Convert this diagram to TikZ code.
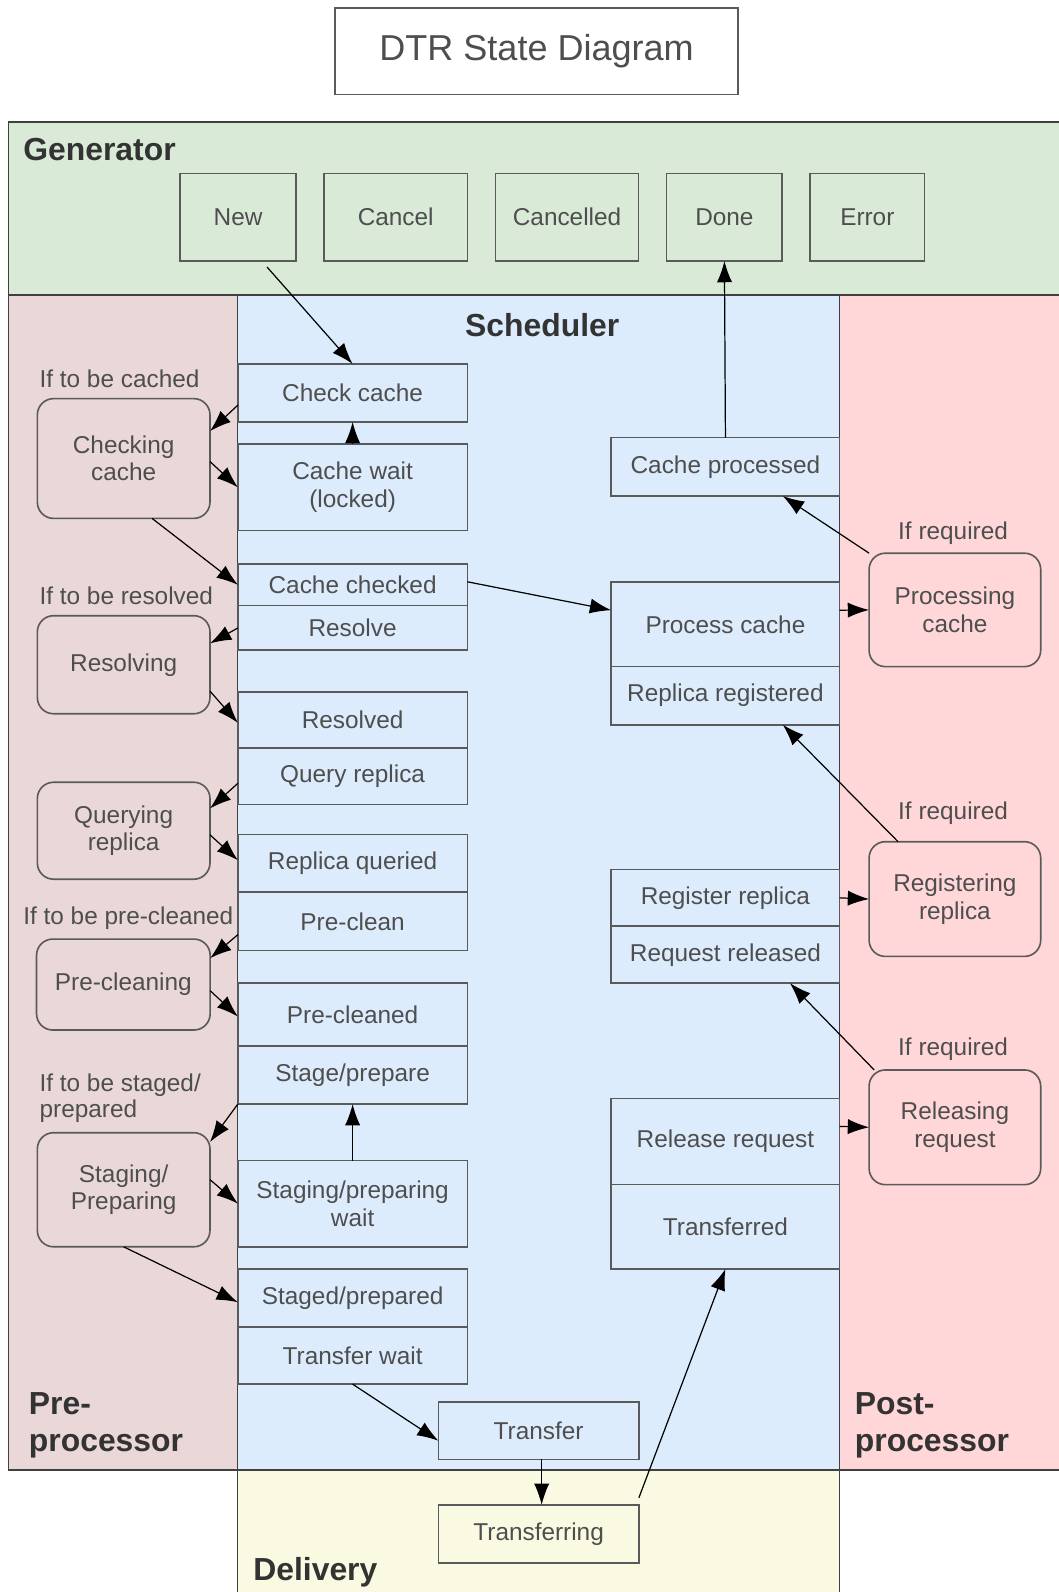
\documentclass[tikz,border=0pt]{standalone}
\usepackage{fontspec}
\setmainfont{Liberation Sans}
\usetikzlibrary{arrows.meta,positioning}

\definecolor{gencol}{RGB}{217,234,215}
\definecolor{precol}{RGB}{234,216,216}
\definecolor{schedcol}{RGB}{221,236,252}
\definecolor{postcol}{RGB}{255,215,216}
\definecolor{delcol}{RGB}{250,249,225}
\definecolor{linegray}{RGB}{90,90,90}
\definecolor{txtgray}{RGB}{78,78,78}

\begin{document}
\begin{tikzpicture}[x=1pt,y=-1pt,>={Latex[length=21pt,width=15pt]},
  every node/.style={font=\fontsize{24}{27}\selectfont,text=txtgray,inner sep=0pt,outer sep=0pt},
  gbox/.style={draw=linegray,line width=1.6pt,minimum height=86pt},
  sbox/.style={draw=linegray,line width=1.6pt,minimum width=226pt,align=center},
  rbox/.style={draw=linegray,line width=1.6pt,rounded corners=16pt,minimum width=170pt,align=center},
  lane/.style={draw=black!75,line width=1.6pt},
  lbl/.style={font=\fontsize{31.4}{36}\selectfont\bfseries,text=black!80,align=left,anchor=west},
  note/.style={align=left,anchor=west},
  every edge/.style={draw,->,line width=1.2pt,black}]
  \useasboundingbox (0,0) rectangle (1043,1568);

  % lanes
  \path[lane,fill=gencol] (8.5,120) rectangle (1050,290.5);
  \path[lane,fill=precol] (8.5,290.5) rectangle (234,1448);
  \path[lane,fill=postcol] (827,290.5) rectangle (1050,1448);
  \path[lane,fill=delcol] (234,1448) rectangle (827,1580);
  \path[lane,fill=schedcol] (234,290.5) rectangle (827,1448);

  \node[draw=linegray,line width=1.6pt,fill=white,minimum width=397pt,minimum height=85pt,
    font=\fontsize{35.5}{40}\selectfont] (title) at (528.5,50.5) {DTR State Diagram};

  \node[lbl] (genlbl) at (23,147) {Generator};
  \node[lbl,anchor=center] (schedlbl) at (534,320) {Scheduler};
  \node[lbl] (prelbl) at (28.5,1404) {Pre-\\processor};
  \node[lbl] (postlbl) at (842,1404) {Post-\\processor};
  \node[lbl] (dellbl) at (249.5,1549) {Delivery};

  % generator states
  \node[gbox,minimum width=114pt] (New) at (234.5,214) {New};
  \node[gbox,minimum width=141.5pt,right=27.5pt of New] (Cancel) {Cancel};
  \node[gbox,minimum width=141pt,right=27.5pt of Cancel] (Cancelled) {Cancelled};
  \node[gbox,minimum width=114pt,right=27.5pt of Cancelled] (Done) {Done};
  \node[gbox,minimum width=112.5pt,right=27.5pt of Done] (Error) {Error};

  % scheduler, left column
  \node[sbox,minimum height=57pt] (chk) at (347.3,387) {Check cache};
  \node[sbox,minimum height=85pt] (cwait) at (347.3,480) {Cache wait\\(locked)};
  \node[sbox,minimum height=41pt] (cchecked) at (347.3,576) {Cache checked};
  \node[sbox,minimum height=44pt,below=0pt of cchecked] (resolve) {Resolve};
  \node[sbox,minimum height=55pt] (resolved) at (347.3,709) {Resolved};
  \node[sbox,minimum height=56pt,below=0pt of resolved] (query) {Query replica};
  \node[sbox,minimum height=57pt] (rqueried) at (347.3,850.3) {Replica queried};
  \node[sbox,minimum height=57.5pt,below=0pt of rqueried] (preclean) {Pre-clean};
  \node[sbox,minimum height=61.5pt] (precleaned) at (347.3,999.2) {Pre-cleaned};
  \node[sbox,minimum height=57.4pt,below=0pt of precleaned] (stage) {Stage/prepare};
  \node[sbox,minimum height=85pt] (swait) at (347.3,1185.5) {Staging/preparing\\wait};
  \node[sbox,minimum height=57.3pt] (staged) at (347.3,1278.6) {Staged/prepared};
  \node[sbox,minimum height=56pt,below=0pt of staged] (twait) {Transfer wait};
  \node[sbox,minimum width=197.5pt,minimum height=56.7pt] (transfer) at (530.5,1409) {Transfer};

  % scheduler, right column
  \node[sbox,minimum width=225pt,minimum height=57.5pt] (cproc) at (714.5,459.8) {Cache processed};
  \node[sbox,minimum width=225pt,minimum height=83pt] (pcache) at (714.5,615) {Process cache};
  \node[sbox,minimum width=225pt,minimum height=57.3pt,below=0pt of pcache] (rreg) {Replica registered};
  \node[sbox,minimum width=225pt,minimum height=56pt] (regrep) at (714.5,884.3) {Register replica};
  \node[sbox,minimum width=225pt,minimum height=56pt,below=0pt of regrep] (relsd) {Request released};
  \node[sbox,minimum width=225pt,minimum height=84.8pt] (relreq) at (714.5,1124.4) {Release request};
  \node[sbox,minimum width=225pt,minimum height=83pt,below=0pt of relreq] (transferred) {Transferred};

  % delivery
  \node[sbox,minimum width=197.5pt,minimum height=57pt] (transferring) at (530.5,1510.7) {Transferring};

  % pre-processor
  \node[note] (ifcached) at (39,373.5) {If to be cached};
  \node[rbox,minimum height=118pt] (checking) at (121.8,451.6) {Checking\\cache};
  \node[note] (ifresolved) at (39,587) {If to be resolved};
  \node[rbox,minimum height=96.6pt] (resolving) at (121.8,654.7) {Resolving};
  \node[rbox,minimum height=95.5pt] (querying) at (121.8,818.2) {Querying\\replica};
  \node[note] (ifprecleaned) at (23,904.5) {If to be pre-cleaned};
  \node[rbox,minimum height=89.6pt,minimum width=171pt] (precleaning) at (121.5,969.7) {Pre-cleaning};
  \node[note,font=\fontsize{24}{25.5}\selectfont] (ifstaged) at (39,1081.3) {If to be staged/\\prepared};
  \node[rbox,minimum height=112.4pt] (staging) at (121.8,1171.8) {Staging/\\Preparing};

  % post-processor
  \node[note,anchor=center] (ifreqa) at (938.7,524.7) {If required};
  \node[rbox,minimum width=169pt,minimum height=111.7pt] (processing) at (940.5,600.7) {Processing\\cache};
  \node[note,anchor=center] (ifreqb) at (938.7,801) {If required};
  \node[rbox,minimum width=169pt,minimum height=113pt] (registering) at (940.5,885.5) {Registering\\replica};
  \node[note,anchor=center] (ifreqc) at (938.7,1033) {If required};
  \node[rbox,minimum width=169pt,minimum height=113pt] (releasing) at (940.5,1110.3) {Releasing\\request};

  % transitions
  \path ([xshift=28.5pt,yshift=-6pt]New.south) edge (chk.north);
  \path ([yshift=-12pt]chk.west) edge ([yshift=27pt]checking.east);
  \path ([yshift=-3pt]checking.east) edge (cwait.west);
  \path (cwait.north) edge (chk.south);
  \path ([xshift=28pt]checking.south) edge (cchecked.west);
  \path ([yshift=3pt]cchecked.east) edge ([yshift=14pt]pcache.west);
  \path (resolve.west) edge ([yshift=21pt]resolving.east);
  \path ([yshift=-26pt]resolving.east) edge ([yshift=-3pt]resolved.west);
  \path ([yshift=-7pt]query.west) edge ([yshift=22pt]querying.east);
  \path ([yshift=-4pt]querying.east) edge ([yshift=3pt]rqueried.west);
  \path ([yshift=-13pt]preclean.west) edge ([yshift=26pt]precleaning.east);
  \path ([yshift=-6pt]precleaning.east) edge ([yshift=-2pt]precleaned.west);
  \path (stage.south west) edge ([yshift=47pt]staging.east);
  \path ([yshift=10pt]staging.east) edge (swait.west);
  \path (swait.north) edge (stage.south);
  \path (staging.south) edge ([yshift=-4pt]staged.west);
  \path (twait.south) edge ([yshift=-10pt]transfer.west);
  \path ([xshift=3pt]transfer.south) edge ([xshift=3pt]transferring.north);
  \path ([yshift=7pt]transferring.north east) edge (transferred.south);
  \path (cproc.north) edge (Done.south);
  \path ([yshift=14pt]pcache.east) edge (processing.west);
  \path (processing.north west) edge ([xshift=56.5pt]cproc.south);
  \path (regrep.east) edge (registering.west);
  \path ([xshift=-56pt]registering.north) edge ([xshift=56.5pt]rreg.south);
  \path ([yshift=15pt]relreq.east) edge (releasing.west);
  \path ([xshift=5pt]releasing.north west) edge ([xshift=63.5pt]relsd.south);
\end{tikzpicture}
\end{document}
